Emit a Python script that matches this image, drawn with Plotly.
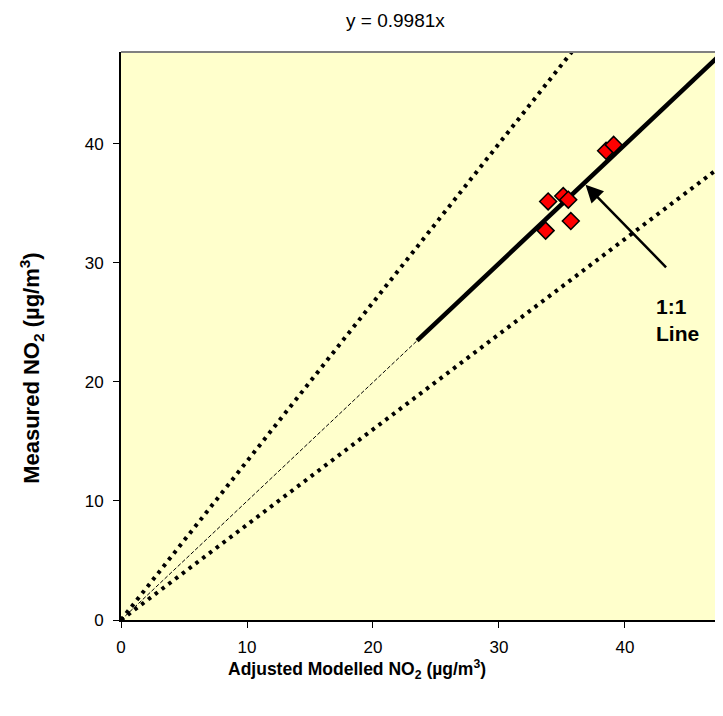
import plotly.graph_objects as go

# ---- data ----
modelled = [33.9, 35.1, 35.5, 35.7, 33.7, 38.5, 39.1]
measured = [35.15, 35.6, 35.3, 33.5, 32.7, 39.4, 39.9]
trend_slope = 0.9981
upper_slope = 1 / 0.75
lower_slope = 0.8
trend_solid_start = 23.5
axis_max = 47.7
tick_vals = [0, 10, 20, 30, 40]
title_text = "y = 0.9981x"

FONT = "Liberation Sans, Arial, sans-serif"

fig = go.Figure()

# guide lines (dotted)
fig.add_trace(go.Scatter(x=[0, axis_max / upper_slope], y=[0, axis_max], mode="lines",
                         line=dict(color="black", width=4, dash="3.5px,5px"),
                         hoverinfo="skip", showlegend=False))
fig.add_trace(go.Scatter(x=[0, axis_max], y=[0, axis_max * lower_slope], mode="lines",
                         line=dict(color="black", width=4, dash="3.5px,5px"),
                         hoverinfo="skip", showlegend=False))
# trend line: thin dashed from origin, thick solid over data range
fig.add_trace(go.Scatter(x=[0, trend_solid_start], y=[0, trend_solid_start * trend_slope], mode="lines",
                         line=dict(color="black", width=1, dash="4px,2px"),
                         hoverinfo="skip", showlegend=False))
fig.add_trace(go.Scatter(x=[trend_solid_start, axis_max],
                         y=[trend_solid_start * trend_slope, axis_max * trend_slope], mode="lines",
                         line=dict(color="black", width=4.5),
                         hoverinfo="skip", showlegend=False))
# data points
fig.add_trace(go.Scatter(x=modelled, y=measured, mode="markers",
                         marker=dict(symbol="diamond", size=13, color="#FF0000",
                                     line=dict(color="black", width=1.5)),
                         showlegend=False))

axis_common = dict(range=[0, axis_max], tickvals=tick_vals, ticks="outside", ticklen=6,
                   tickcolor="black", tickwidth=1, showgrid=False, zeroline=False,
                   showline=True, linecolor="black", linewidth=2,
                   tickfont=dict(family=FONT, size=17, color="black"))

fig.update_layout(
    width=714, height=700,
    margin=dict(l=113, r=0, t=44, b=88),
    paper_bgcolor="white", plot_bgcolor="#FFFFCC",
    xaxis=dict(**axis_common, ticklabelstandoff=5),
    yaxis=dict(**axis_common, ticklabelstandoff=6),
    shapes=[
        dict(type="line", xref="paper", yref="paper", x0=0, x1=1, y0=1, y1=1,
             line=dict(color="#808080", width=2)),
        dict(type="line", xref="paper", yref="paper", x0=1, x1=1, y0=0, y1=1,
             line=dict(color="#808080", width=2)),
    ],
    annotations=[
        dict(text=title_text, xref="paper", yref="paper", x=0.456, y=1.056,
             xanchor="center", yanchor="middle", showarrow=False,
             font=dict(family=FONT, size=19, color="black")),
        dict(text="Adjusted Modelled NO<sub>2</sub> (µg/m<sup>3</sup>)", xref="paper", yref="paper",
             x=0.393, y=-0.087, xanchor="center", yanchor="middle", showarrow=False,
             font=dict(family=FONT, size=17.5, color="black", weight="bold")),
        dict(text="Measured NO<sub>2</sub> (µg/m<sup>3</sup>)", xref="paper", yref="paper",
             x=-0.148, y=0.444, xanchor="center", yanchor="middle", textangle=-90,
             showarrow=False, font=dict(family=FONT, size=22, color="black", weight="bold")),
        dict(text="1:1<br>Line", xref="paper", yref="paper", x=0.887, y=0.576,
             xanchor="left", yanchor="top", align="left", showarrow=False,
             font=dict(family=FONT, size=21, color="black", weight="bold")),
        dict(x=36.87, y=36.55, xref="x", yref="y", ax=82, ay=84, text="",
             showarrow=True, arrowhead=2, arrowsize=1.4, arrowwidth=2.5, arrowcolor="black"),
    ],
)

fig.write_html("out.html")
